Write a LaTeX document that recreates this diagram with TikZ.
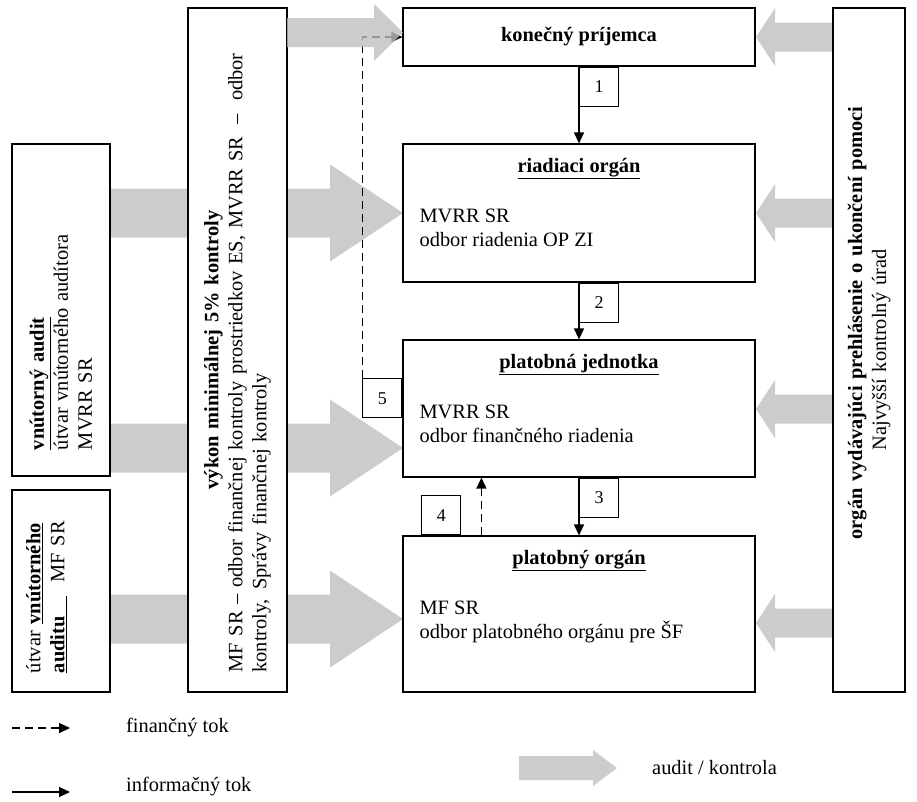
\documentclass[tikz,border=0pt]{standalone}
\usepackage{fontspec}
\setmainfont{Liberation Serif}
\usetikzlibrary{arrows.meta, calc, positioning}

% grey block arrow: tail x, tip x, y, half shaft, half head, head length
\newcommand{\blockarrow}[6]{%
  \fill[audit] ({#1},{#3-(#4)}) -- ({#2-(#6)},{#3-(#4)}) -- ({#2-(#6)},{#3-(#5)})
    -- ({#2},{#3}) -- ({#2-(#6)},{#3+(#5)}) -- ({#2-(#6)},{#3+(#4)})
    -- ({#1},{#3+(#4)}) -- cycle;}

\begin{document}
\begin{tikzpicture}[
    x=1pt, y=-1pt,
    font=\fontsize{20.4pt}{24pt}\selectfont,
    every node/.style={inner sep=0pt},
    box/.style={draw, line width=1.2pt, fill=white, inner sep=0pt},
    vbox/.style={box, rotate=90},
    lbl/.style={draw, line width=1pt, fill=white, minimum size=39pt,
        font=\fontsize{18pt}{20pt}\selectfont},
    info/.style={-{Triangle[length=11pt,width=10pt]}, line width=1.5pt},
    fin/.style={info, line width=1.6pt, dash pattern=on 8pt off 5pt},
    audit/.style={fill=black!25, fill opacity=0.8}
    ]
    \useasboundingbox (0,0) rectangle (917,801);

    % audit / kontrola
    \foreach \yy in {213,448,619}
        \blockarrow{110}{403}{\yy}{24.5}{48.5}{73};
    \foreach \yy in {37,213,409,623}
        \blockarrow{833}{756}{\yy}{14.5}{29}{-19};

    % vertical boxes
    \node[vbox, minimum width=332pt, minimum height=98pt, text width=280pt,
        inner xsep=26pt, align=left] (ia) at (61,310)
        {\underline{\textbf{vnútorný audit}}\\útvar vnútorného audítora\\MVRR SR};
    \node[vbox, minimum width=202pt, minimum height=98pt, text width=164pt,
        inner xsep=19pt, align=left] (ua) at (61,591)
        {útvar \underline{\textbf{vnútorného}}\\\underline{\textbf{auditu}~~~}~~MF SR\\\strut};
    \node[vbox, minimum width=684pt, minimum height=99pt, text width=645pt,
        inner xsep=19.5pt, align=left] (vk) at (237.5,350)
        {{\centering\textbf{výkon minimálnej 5\% kontroly}\par}
        MF SR – odbor finančnej kontroly prostriedkov ES, MVRR SR\hspace{13pt}–\hspace{13pt}odbor\newline
        kontroly,\hspace{10pt}Správy finančnej kontroly\par};
    \node[vbox, minimum width=684pt, minimum height=72pt, text width=650pt,
        align=center] (ok) at (869,350)
        {\hspace*{54pt}\textbf{orgán vydávajúci prehlásenie o ukončení pomoci}\\Najvyšší kontrolný úrad};

    % central boxes
    \node[box, minimum width=352pt, minimum height=58pt] (kp) at (579,37)
        {\textbf{konečný príjemca}};
    \node[box, minimum width=352pt, minimum height=138pt] (ro) at (579,213) {};
    \node[box, minimum width=352pt, minimum height=137pt] (pj) at (579,408.5) {};
    \node[box, minimum width=352pt, minimum height=156pt] (po) at (579,614) {};

    \node[anchor=base] (roh) at ($(ro.north)+(0,29)$) {\underline{\textbf{riadiaci orgán}}};
    \node[anchor=north west, align=left] (rob) at ($(ro.north west)+(17,65)$)
        {MVRR SR\\odbor riadenia OP ZI};
    \node[anchor=base] (pjh) at ($(pj.north)+(0,29)$) {\underline{\textbf{platobná jednotka}}};
    \node[anchor=north west, align=left] (pjb) at ($(pj.north west)+(17,65)$)
        {MVRR SR\\odbor finančného riadenia};
    \node[anchor=base] (poh) at ($(po.north)+(0,29)$) {\underline{\textbf{platobný orgán}}};
    \node[anchor=north west, align=left] (pob) at ($(po.north west)+(17,65)$)
        {MF SR\\odbor platobného orgánu pre ŠF};

    % numbered flows
    \node[lbl, anchor=north west] (l1) at (kp.south) {1};
    \node[lbl, anchor=north west] (l2) at (ro.south) {2};
    \node[lbl, anchor=north west] (l3) at (pj.south) {3};
    \node[lbl, anchor=south west] (l4) at ($(po.north west)+(19,0)$) {4};
    \node[lbl, anchor=north east] (l5) at ($(pj.north west)+(0,39)$) {5};
    \coordinate (c4) at ($(po.north west)+(79,0)$);

    \draw[info] (kp.south) -- (ro.north);
    \draw[info] (ro.south) -- (pj.north);
    \draw[info] (pj.south) -- (po.north);
    \draw[fin] (c4) -- (c4 |- pj.south);
    \draw[fin] (l5.north west) |- (kp.west);

    \blockarrow{287}{403}{32.5}{14.5}{28.5}{29};

    % legend
    \coordinate (lf0) at (12,728);
    \coordinate (lf1) at (70,728);
    \draw[fin] (lf0) -- (lf1);
    \node[anchor=west] (lft) at (126,728) {finančný tok};
    \coordinate (li0) at (12,792);
    \coordinate (li1) at (70,792);
    \draw[info] (li0) -- (li1);
    \node[anchor=west] (lit) at (126,787) {informačný tok};
    \blockarrow{519}{617}{768}{12}{18}{24};
    \node[anchor=west] (lat) at (652,768) {audit / kontrola};
\end{tikzpicture}
\end{document}
